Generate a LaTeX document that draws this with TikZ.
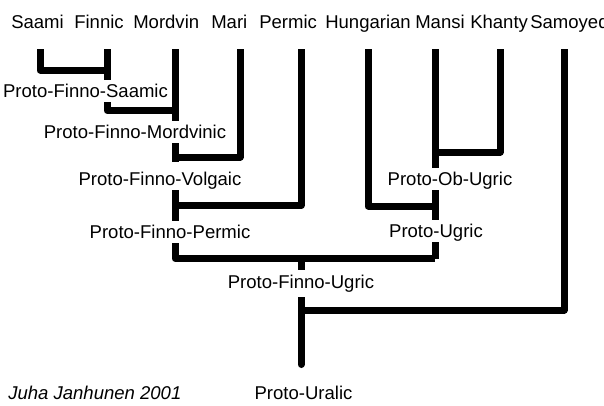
\documentclass[tikz,border=0pt]{standalone}
\usepackage{fontspec}
\setmainfont{Liberation Sans}
\tikzset{
  branch/.style={black,line width=5.25pt,line join=round},
  lang/.style={font=\fontsize{13.9}{16}\selectfont,anchor=base west,inner sep=0pt},
  proto/.style={font=\fontsize{13.9}{16}\selectfont,anchor=base,fill=white,
                inner xsep=1pt,inner ysep=0pt,text height=12.75pt,text depth=4.1pt},
  credit/.style={lang,font=\fontsize{13.9}{16}\selectfont\itshape},
}

\begin{document}
\begin{tikzpicture}[x=0.75pt,y=-0.75pt]
  \path[use as bounding box] (0,0) rectangle (604,405);

  % daughter languages
  \node[lang] (saami)     at (11,28)  {Saami};
  \node[lang] (finnic)    at (74,28)  {Finnic};
  \node[lang] (mordvin)   at (133,28) {Mordvin};
  \node[lang] (mari)      at (211,28) {Mari};
  \node[lang] (permic)    at (259,28) {Permic};
  \node[lang] (hungarian) at (325,28) {Hungarian};
  \node[lang] (mansi)     at (415,28) {Mansi};
  \node[lang] (khanty)    at (470,28) {Khanty};
  \node[lang] (samoyed)   at (530,28) {Samoyed};

  % line tops and junctions
  \coordinate (saamitop)     at (40,49);
  \coordinate (finnictop)    at (107,49);
  \coordinate (mordvintop)   at (175,49);
  \coordinate (maritop)      at (240,49);
  \coordinate (permictop)    at (301,49);
  \coordinate (hungariantop) at (368,49);
  \coordinate (mansitop)     at (435,49);
  \coordinate (khantytop)    at (500,49);
  \coordinate (samoyedtop)   at (564,49);
  \coordinate (pfsj)  at (107,70);
  \coordinate (pfmj)  at (175,110.5);
  \coordinate (pfvj)  at (175,157);
  \coordinate (pfpj)  at (175,205.5);
  \coordinate (pouj)  at (435,152);
  \coordinate (puj)   at (435,206);
  \coordinate (pfuj)  at (435,258.5);
  \coordinate (pfustem) at (301,258.5);
  \coordinate (uralj) at (301,310);
  \coordinate (root)  at (301,364.5);

  \draw[branch] (saamitop) |- (pfsj);
  \draw[branch] (finnictop) |- (pfmj);
  \draw[branch] (mordvintop) |- (pfuj);
  \draw[branch] (maritop) |- (pfvj);
  \draw[branch] (permictop) |- (pfpj);
  \draw[branch] (hungariantop) |- (puj);
  \draw[branch] (khantytop) |- (pouj);
  \draw[branch] (mansitop) -- (pfuj);
  \draw[branch] (samoyedtop) |- (uralj);
  \draw[branch,line cap=round] (pfustem) -- (root);

  % proto-languages
  \node[proto] (pfs) at (85.5,97) {Proto-Finno-Saamic};
  \node[proto] (pfm) at (135,138) {Proto-Finno-Mordvinic};
  \node[proto,text height=17pt] (pfv) at (160,185) {Proto-Finno-Volgaic};
  \node[proto] (pfp) at (170,238) {Proto-Finno-Permic};
  \node[proto] (pou) at (450,185) {Proto-Ob-Ugric};
  \node[proto] (pu)  at (436,237) {Proto-Ugric};
  \node[proto,text height=13.5pt,text depth=6.75pt] (pfu) at (301,288) {Proto-Finno-Ugric};
  \node[proto] (pural) at (303.5,399) {Proto-Uralic};

  \node[credit] (source) at (8,399) {Juha Janhunen 2001};
\end{tikzpicture}
\end{document}
